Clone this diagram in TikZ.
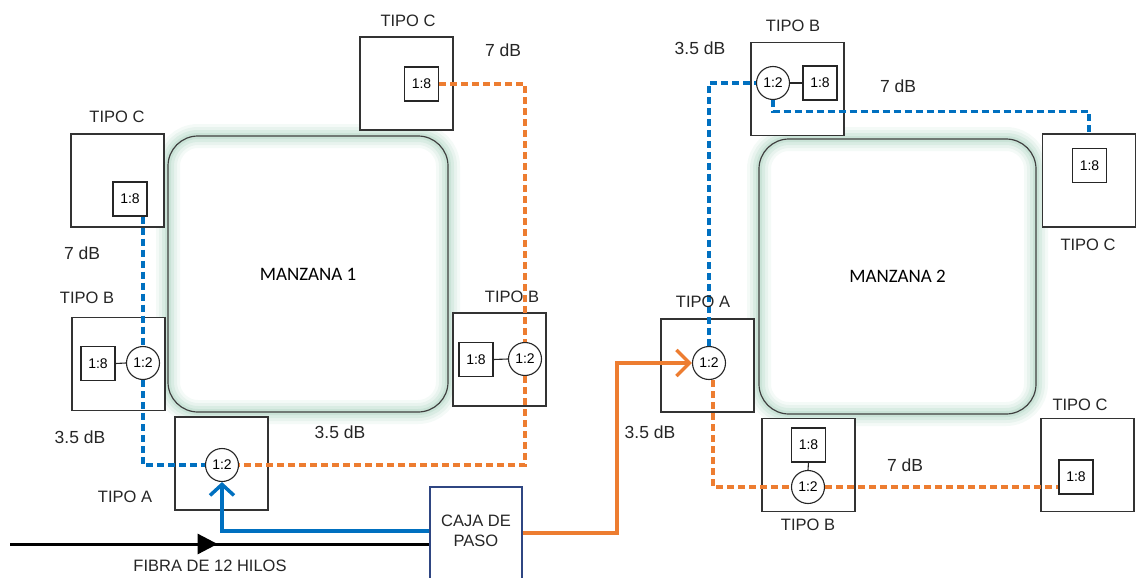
\documentclass[tikz,border=0pt]{standalone}
\usepackage{fontspec}
\setmainfont{Liberation Sans}
\newfontfamily\calib{Carlito}
\usetikzlibrary{arrows.meta,decorations.markings,calc}
\definecolor{fblue}{RGB}{0,112,192}
\definecolor{forange}{RGB}{237,125,49}
\definecolor{fnavy}{RGB}{47,70,130}
\definecolor{fglow}{RGB}{120,185,155}
\begin{document}
\begin{tikzpicture}[x=1pt,y=-1pt,
 lbl/.style={font=\fontsize{16.5}{18}\selectfont, inner sep=0pt, text=black!85},
 db/.style={font=\fontsize{17.5}{19}\selectfont, inner sep=0pt, text=black!85},
 tbox/.style={draw=black!80, line width=1.1pt, fill=white, minimum width=93pt, minimum height=93pt, inner sep=0pt},
 sp8/.style={draw=black!85, line width=1.1pt, fill=white, minimum width=34pt, minimum height=34pt, inner sep=0pt, font=\fontsize{14}{16}\selectfont},
 sp2/.style={draw=black!85, circle, line width=1.1pt, fill=white, minimum size=33pt, inner sep=0pt, font=\fontsize{14}{16}\selectfont},
 block/.style={draw=black!75, line width=1.2pt, rounded corners=30pt, font=\calib\fontsize{19}{21}\selectfont,
   preaction={draw=fglow, line width=24pt, opacity=0.08},
   preaction={draw=fglow, line width=18pt, opacity=0.1},
   preaction={draw=fglow, line width=12pt, opacity=0.13},
   preaction={draw=fglow, line width=6pt, opacity=0.16}},
 bdash/.style={draw=fblue, line width=3.2pt, dash pattern=on 7pt off 4pt},
 odash/.style={draw=forange, line width=3.2pt, dash pattern=on 7pt off 4pt},
 link/.style={draw=black!85, line width=1.1pt},
 barrow/.style={draw=fblue, line width=3.5pt, -{Straight Barb[length=11pt,width=24pt]}},
 oarrow/.style={draw=forange, line width=3.5pt, -{Straight Barb[length=13pt,width=26pt]}},
 fiber/.style={draw=black, line width=3pt, postaction={decorate},
   decoration={markings, mark=at position 0.495 with {\arrow{Triangle[length=20pt,width=20pt]}}}},
 caja/.style={draw=fnavy, line width=1.3pt, fill=white, minimum width=92pt, minimum height=100pt, inner sep=0pt}
]
\useasboundingbox (0,0) rectangle (1138,578);

% blocks
\node[block, minimum width=280pt, minimum height=276pt] (m1) at (308,274) {MANZANA 1};
\node[block, minimum width=277pt, minimum height=275pt] (m2) at (897.5,276.5) {MANZANA 2};

% outer boxes
\node[tbox] (c1) at (117.5,180.5) {};
\node[tbox] (b1) at (118.5,364) {};
\node[tbox] (a1) at (221.5,463.5) {};
\node[tbox] (c2) at (406.5,83.5) {};
\node[tbox] (b2) at (499.5,359.5) {};
\node[tbox] (a2) at (707.5,365.5) {};
\node[tbox] (b3) at (797.5,89) {};
\node[tbox] (c3) at (1089,180.5) {};
\node[tbox] (b4) at (808.5,465) {};
\node[tbox] (c4) at (1087.5,465) {};
\node[caja] (cajab) at (476,537) {};
\node[lbl, align=center] (cajat) at (476,531) {CAJA DE\\[2pt]PASO};

% splitters
\node[sp8] (c1s) at (130,199) {1:8};
\node[sp8] (b1s) at (98,363.5) {1:8};
\node[sp2] (b1c) at (143,363) {1:2};
\node[sp2] (a1c) at (222,465) {1:2};
\node[sp8] (c2s) at (421.5,84) {1:8};
\node[sp8] (b2s) at (476,359.5) {1:8};
\node[sp2] (b2c) at (525,359) {1:2};
\node[sp2] (a2c) at (709,363) {1:2};
\node[sp2] (b3c) at (773,83) {1:2};
\node[sp8] (b3s) at (820,83) {1:8};
\node[sp8] (c3s) at (1089.5,165.5) {1:8};
\node[sp8] (b4s) at (808.5,445) {1:8};
\node[sp2] (b4c) at (808,487) {1:2};
\node[sp8] (c4s) at (1076,477) {1:8};

% internal links
\draw[link] (b1s.east) -- (b1c.west);
\draw[link] (b2s.east) -- (b2c.west);
\draw[link] (b3c.east) -- (b3s.west);
\draw[link] (b4s.south) -- (b4c.north);

% dashed distribution
\draw[bdash] (b1c |- c1s.south) -- (b1c.north);
\draw[bdash] (b1c.south) |- (a1c.west);
\draw[odash] (c2s.east) -| (b2c.north);
\draw[odash] (b2c.south) |- (a1c.east);
\draw[bdash] (a2c.north) |- (b3c.west);
\draw[bdash] (b3c.south) |- ($(c3.north)+(0,-22)$) -- (c3.north);
\draw[odash] ([xshift=4pt]a2c.south) |- (b4c.west);
\draw[odash] (b4c.east) -- (b4c.east -| c4s.west);

% feeders
\coordinate (fin) at (10,544);
\coordinate (obend) at (617,363);
\draw[fiber] (fin) -- (fin -| cajab.west);
\draw[barrow] ([yshift=6pt]cajab.west) -| (a1c.south);
\draw[oarrow] ([yshift=4pt]cajab.east) -| (obend) -- (a2c.west);

% labels
\node[lbl] (l1) at (117,117) {TIPO C};
\node[db] (l2) at (82,253) {7 dB};
\node[lbl] (l3) at (87,298) {TIPO B};
\node[db] (l4) at (80,437) {3.5 dB};
\node[lbl] (l5) at (125,497) {TIPO A};
\node[db] (l6) at (340,432) {3.5 dB};
\node[lbl] (l7) at (408,21) {TIPO C};
\node[db] (l8) at (503,50) {7 dB};
\node[lbl] (l9) at (512,297) {TIPO B};
\node[lbl] (l10) at (703,302) {TIPO A};
\node[db] (l11) at (650,432) {3.5 dB};
\node[lbl] (l12) at (793,26) {TIPO B};
\node[db] (l13) at (700,48) {3.5 dB};
\node[db] (l14) at (898,86) {7 dB};
\node[lbl] (l15) at (1088,245) {TIPO C};
\node[lbl] (l16) at (1080,405) {TIPO C};
\node[db] (l17) at (905,465) {7 dB};
\node[lbl] (l18) at (808,525) {TIPO B};
\node[lbl] (l19) at (210,566) {FIBRA DE 12 HILOS};
\end{tikzpicture}
\end{document}
